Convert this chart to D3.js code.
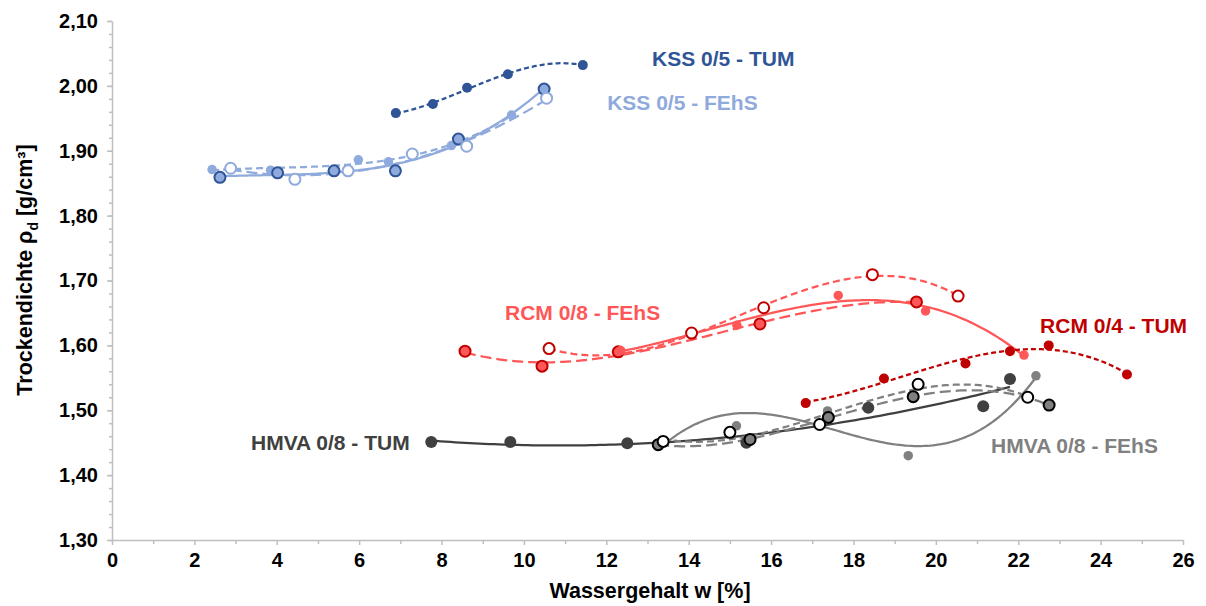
<!DOCTYPE html>
<html>
<head>
<meta charset="utf-8">
<script src="https://cdn.jsdelivr.net/npm/d3@7"></script>
<style>
  body { margin: 0; background: #fff; }
  svg { display: block; font-family: "Liberation Sans", Arial, sans-serif; font-weight: bold; }
</style>
</head>
<body>
<svg id="chart" width="1206" height="606"></svg>
<script>
// KSS 0/5
var kssTumW = [6.89, 7.79, 8.62, 9.61, 11.43]
var kssTumRho = [1.958, 1.972, 1.997, 2.018, 2.032]
var kssFehsFilledW = [2.43, 3.85, 5.98, 6.71, 8.24, 9.70]
var kssFehsFilledRho = [1.871, 1.870, 1.886, 1.883, 1.908, 1.955]
var kssFehsRingW = [2.62, 4.02, 5.39, 6.88, 8.41, 10.49]
var kssFehsRingRho = [1.859, 1.866, 1.869, 1.869, 1.918, 1.995]
var kssFehsOpenW = [2.88, 4.44, 5.73, 7.29, 8.61, 10.55]
var kssFehsOpenRho = [1.873, 1.856, 1.869, 1.895, 1.907, 1.981]

// RCM 0/8 FEhS and RCM 0/4 TUM
var rcmFehsRingW = [8.57, 10.44, 12.29, 15.73, 19.53]
var rcmFehsRingRho = [1.591, 1.568, 1.590, 1.633, 1.667]
var rcmFehsFilledW = [12.35, 15.17, 17.63, 19.75, 22.14]
var rcmFehsFilledRho = [1.592, 1.631, 1.677, 1.653, 1.585]
var rcmFehsOpenW = [10.61, 14.07, 15.82, 18.46, 20.54]
var rcmFehsOpenRho = [1.595, 1.619, 1.658, 1.709, 1.676]
var rcmTumW = [16.84, 18.74, 20.72, 21.80, 22.74, 24.64]
var rcmTumRho = [1.511, 1.549, 1.572, 1.591, 1.600, 1.555]

// HMVA 0/8
var hmvaTumW = [7.75, 9.67, 12.51, 15.40, 18.36, 21.15, 21.80]
var hmvaTumRho = [1.451, 1.451, 1.449, 1.450, 1.504, 1.506, 1.548]
var hmvaFehsFilledW = [13.35, 15.16, 17.37, 19.33, 22.43]
var hmvaFehsFilledRho = [1.450, 1.476, 1.499, 1.430, 1.553]
var hmvaFehsRingW = [13.26, 15.49, 17.39, 19.45, 22.75]
var hmvaFehsRingRho = [1.447, 1.455, 1.489, 1.521, 1.508]
var hmvaFehsOpenW = [13.38, 15.00, 17.18, 19.57, 22.23]
var hmvaFehsOpenRho = [1.452, 1.466, 1.478, 1.540, 1.520]

// axes
var xTicks = [0, 2, 4, 6, 8, 10, 12, 14, 16, 18, 20, 22, 24, 26]
var xMinor = [1, 3, 5, 7, 9, 11, 13, 15, 17, 19, 21, 23, 25]
var yTicks = [1.30, 1.40, 1.50, 1.60, 1.70, 1.80, 1.90, 2.00, 2.10]
var yMinor = d3.range(0, 41).map(i => 1.30 + i * 0.02)

var labelTexts = ["KSS 0/5 - TUM", "KSS 0/5 - FEhS", "RCM 0/8 - FEhS", "RCM 0/4 - TUM", "HMVA 0/8 - TUM", "HMVA 0/8 - FEhS"]

var darkBlue = "#2f5597", lightBlue = "#8faadc"
var coral = "#ff5757", darkRed = "#c00000"
var darkGray = "#404040", gray = "#808080"

// style + fit order per series
var series = [
  { w: kssFehsFilledW, rho: kssFehsFilledRho, deg: 3, line: lightBlue, dash: "7,4", fill: lightBlue, stroke: "none", r: 4.75 },
  { w: kssFehsRingW, rho: kssFehsRingRho, deg: 3, line: lightBlue, dash: null, fill: lightBlue, stroke: darkBlue, r: 5.5 },
  { w: kssFehsOpenW, rho: kssFehsOpenRho, deg: 3, line: lightBlue, dash: "11,5", fill: "#fff", stroke: lightBlue, r: 5.5 },
  { w: kssTumW, rho: kssTumRho, deg: 3, line: darkBlue, dash: "5,3", fill: darkBlue, stroke: "none", r: 5 },
  { w: rcmFehsRingW, rho: rcmFehsRingRho, deg: 3, line: coral, dash: "11,5", fill: coral, stroke: darkRed, r: 5.5 },
  { w: rcmFehsFilledW, rho: rcmFehsFilledRho, deg: 3, line: coral, dash: null, fill: coral, stroke: "none", r: 4.75 },
  { w: rcmFehsOpenW, rho: rcmFehsOpenRho, deg: 3, line: coral, dash: "7,4", fill: "#fff", stroke: darkRed, r: 5.5 },
  { w: rcmTumW, rho: rcmTumRho, deg: 3, line: darkRed, dash: "5,3", fill: darkRed, stroke: "none", r: 5 },
  { w: hmvaTumW, rho: hmvaTumRho, deg: 3, line: darkGray, dash: null, fill: darkGray, stroke: "none", r: 6 },
  { w: hmvaFehsFilledW, rho: hmvaFehsFilledRho, deg: 3, line: gray, dash: null, fill: gray, stroke: "none", r: 4.75 },
  { w: hmvaFehsRingW, rho: hmvaFehsRingRho, deg: 3, line: gray, dash: "11,5", fill: gray, stroke: "#000", r: 5.5 },
  { w: hmvaFehsOpenW, rho: hmvaFehsOpenRho, deg: 3, line: gray, dash: "7,4", fill: "#fff", stroke: "#000", r: 5.5 }
]

var labels = [
  { text: labelTexts[0], w: 13.11, rho: 2.042, color: darkBlue },
  { text: labelTexts[1], w: 12.02, rho: 1.974, color: lightBlue },
  { text: labelTexts[2], w: 9.54, rho: 1.651, color: coral },
  { text: labelTexts[3], w: 22.53, rho: 1.631, color: darkRed },
  { text: labelTexts[4], w: 3.375, rho: 1.451, color: darkGray },
  { text: labelTexts[5], w: 21.34, rho: 1.445, color: gray }
]

// least squares polynomial, like an excel trendline
function polyfit(xs, ys, deg) {
  var n = deg + 1
  var x0 = d3.mean(xs)
  var A = d3.range(n).map(() => new Array(n + 1).fill(0))
  xs.forEach((x, k) => {
    var t = x - x0
    for (var i = 0; i < n; i++) {
      for (var j = 0; j < n; j++) A[i][j] += Math.pow(t, i + j)
      A[i][n] += Math.pow(t, i) * ys[k]
    }
  })
  for (var i = 0; i < n; i++) {
    var p = i
    for (var r = i + 1; r < n; r++) if (Math.abs(A[r][i]) > Math.abs(A[p][i])) p = r
    var tmp = A[i]; A[i] = A[p]; A[p] = tmp
    for (var r = i + 1; r < n; r++) {
      var f = A[r][i] / A[i][i]
      for (var c = i; c <= n; c++) A[r][c] -= f * A[i][c]
    }
  }
  var coef = new Array(n).fill(0)
  for (var i = n - 1; i >= 0; i--) {
    var s = A[i][n]
    for (var j = i + 1; j < n; j++) s -= A[i][j] * coef[j]
    coef[i] = s / A[i][i]
  }
  return x => coef.reduce((s, ci, i) => s + ci * Math.pow(x - x0, i), 0)
}

var svg = d3.select("#chart")
var x = d3.scaleLinear().domain([0, 26]).range([112, 1183])
var y = d3.scaleLinear().domain([1.3, 2.1]).range([540, 21])
var locale = d3.formatLocale({ decimal: ",", thousands: ".", grouping: [3], currency: ["", "€"] })
var fmt = locale.format(".2f")

// minor ticks first, then main axes
svg.append("g").attr("class", "minor")
  .attr("transform", "translate(112,0)")
  .call(d3.axisLeft(y).tickValues(yMinor).tickSize(3).tickFormat(""))
svg.append("g").attr("class", "minor")
  .attr("transform", "translate(0,540)")
  .call(d3.axisBottom(x).tickValues(xMinor).tickSize(4).tickFormat(""))
svg.selectAll("g.minor .domain").remove()

svg.append("g").attr("class", "axis")
  .attr("transform", "translate(112,0)")
  .call(d3.axisLeft(y).tickValues(yTicks).tickSize(5).tickSizeOuter(0).tickPadding(9).tickFormat(fmt))
svg.append("g").attr("class", "axis")
  .attr("transform", "translate(0,540)")
  .call(d3.axisBottom(x).tickValues(xTicks).tickSize(5).tickSizeOuter(0).tickPadding(8).tickFormat(d3.format("d")))

svg.selectAll("g.axis .domain, g.axis line, g.minor line")
  .attr("stroke", "#bfbfbf").attr("stroke-width", 1.5)
svg.selectAll("g.axis text")
  .attr("fill", "#000").style("font-size", "20px").style("font-weight", "bold")

// axis titles
var yt = svg.append("text")
  .attr("transform", "translate(32,270) rotate(-90)")
  .attr("text-anchor", "middle")
  .style("font-size", "21.5px")
yt.append("tspan").text("Trockendichte ρ")
yt.append("tspan").attr("dy", 6).style("font-size", "14px").text("d")
yt.append("tspan").attr("dy", -6).text(" [g/cm³]")

svg.append("text")
  .attr("x", 650).attr("y", 598)
  .attr("text-anchor", "middle")
  .style("font-size", "21.5px")
  .text("Wassergehalt w [%]")

// trendlines
var line = d3.line().x(d => x(d[0])).y(d => y(d[1]))
series.forEach(s => {
  var fit = polyfit(s.w, s.rho, s.deg)
  var lo = d3.min(s.w), hi = d3.max(s.w)
  var pts = d3.range(0, 121).map(i => {
    var wv = lo + (hi - lo) * i / 120
    return [wv, fit(wv)]
  })
  svg.append("path")
    .datum(pts)
    .attr("d", line)
    .attr("fill", "none")
    .attr("stroke", s.line)
    .attr("stroke-width", 2.25)
    .attr("stroke-dasharray", s.dash)
})

// markers
series.forEach(s => {
  svg.append("g")
    .selectAll("circle")
    .data(s.w.map((wv, i) => [wv, s.rho[i]]))
    .enter()
    .append("circle")
    .attr("cx", d => x(d[0]))
    .attr("cy", d => y(d[1]))
    .attr("r", s.r)
    .attr("fill", s.fill)
    .attr("stroke", s.stroke)
    .attr("stroke-width", 2)
})

// series labels
svg.append("g")
  .selectAll("text")
  .data(labels)
  .enter()
  .append("text")
  .attr("x", d => x(d.w))
  .attr("y", d => y(d.rho))
  .attr("dy", "0.36em")
  .attr("fill", d => d.color)
  .style("font-size", "21px")
  .text(d => d.text)
</script>
</body>
</html>
